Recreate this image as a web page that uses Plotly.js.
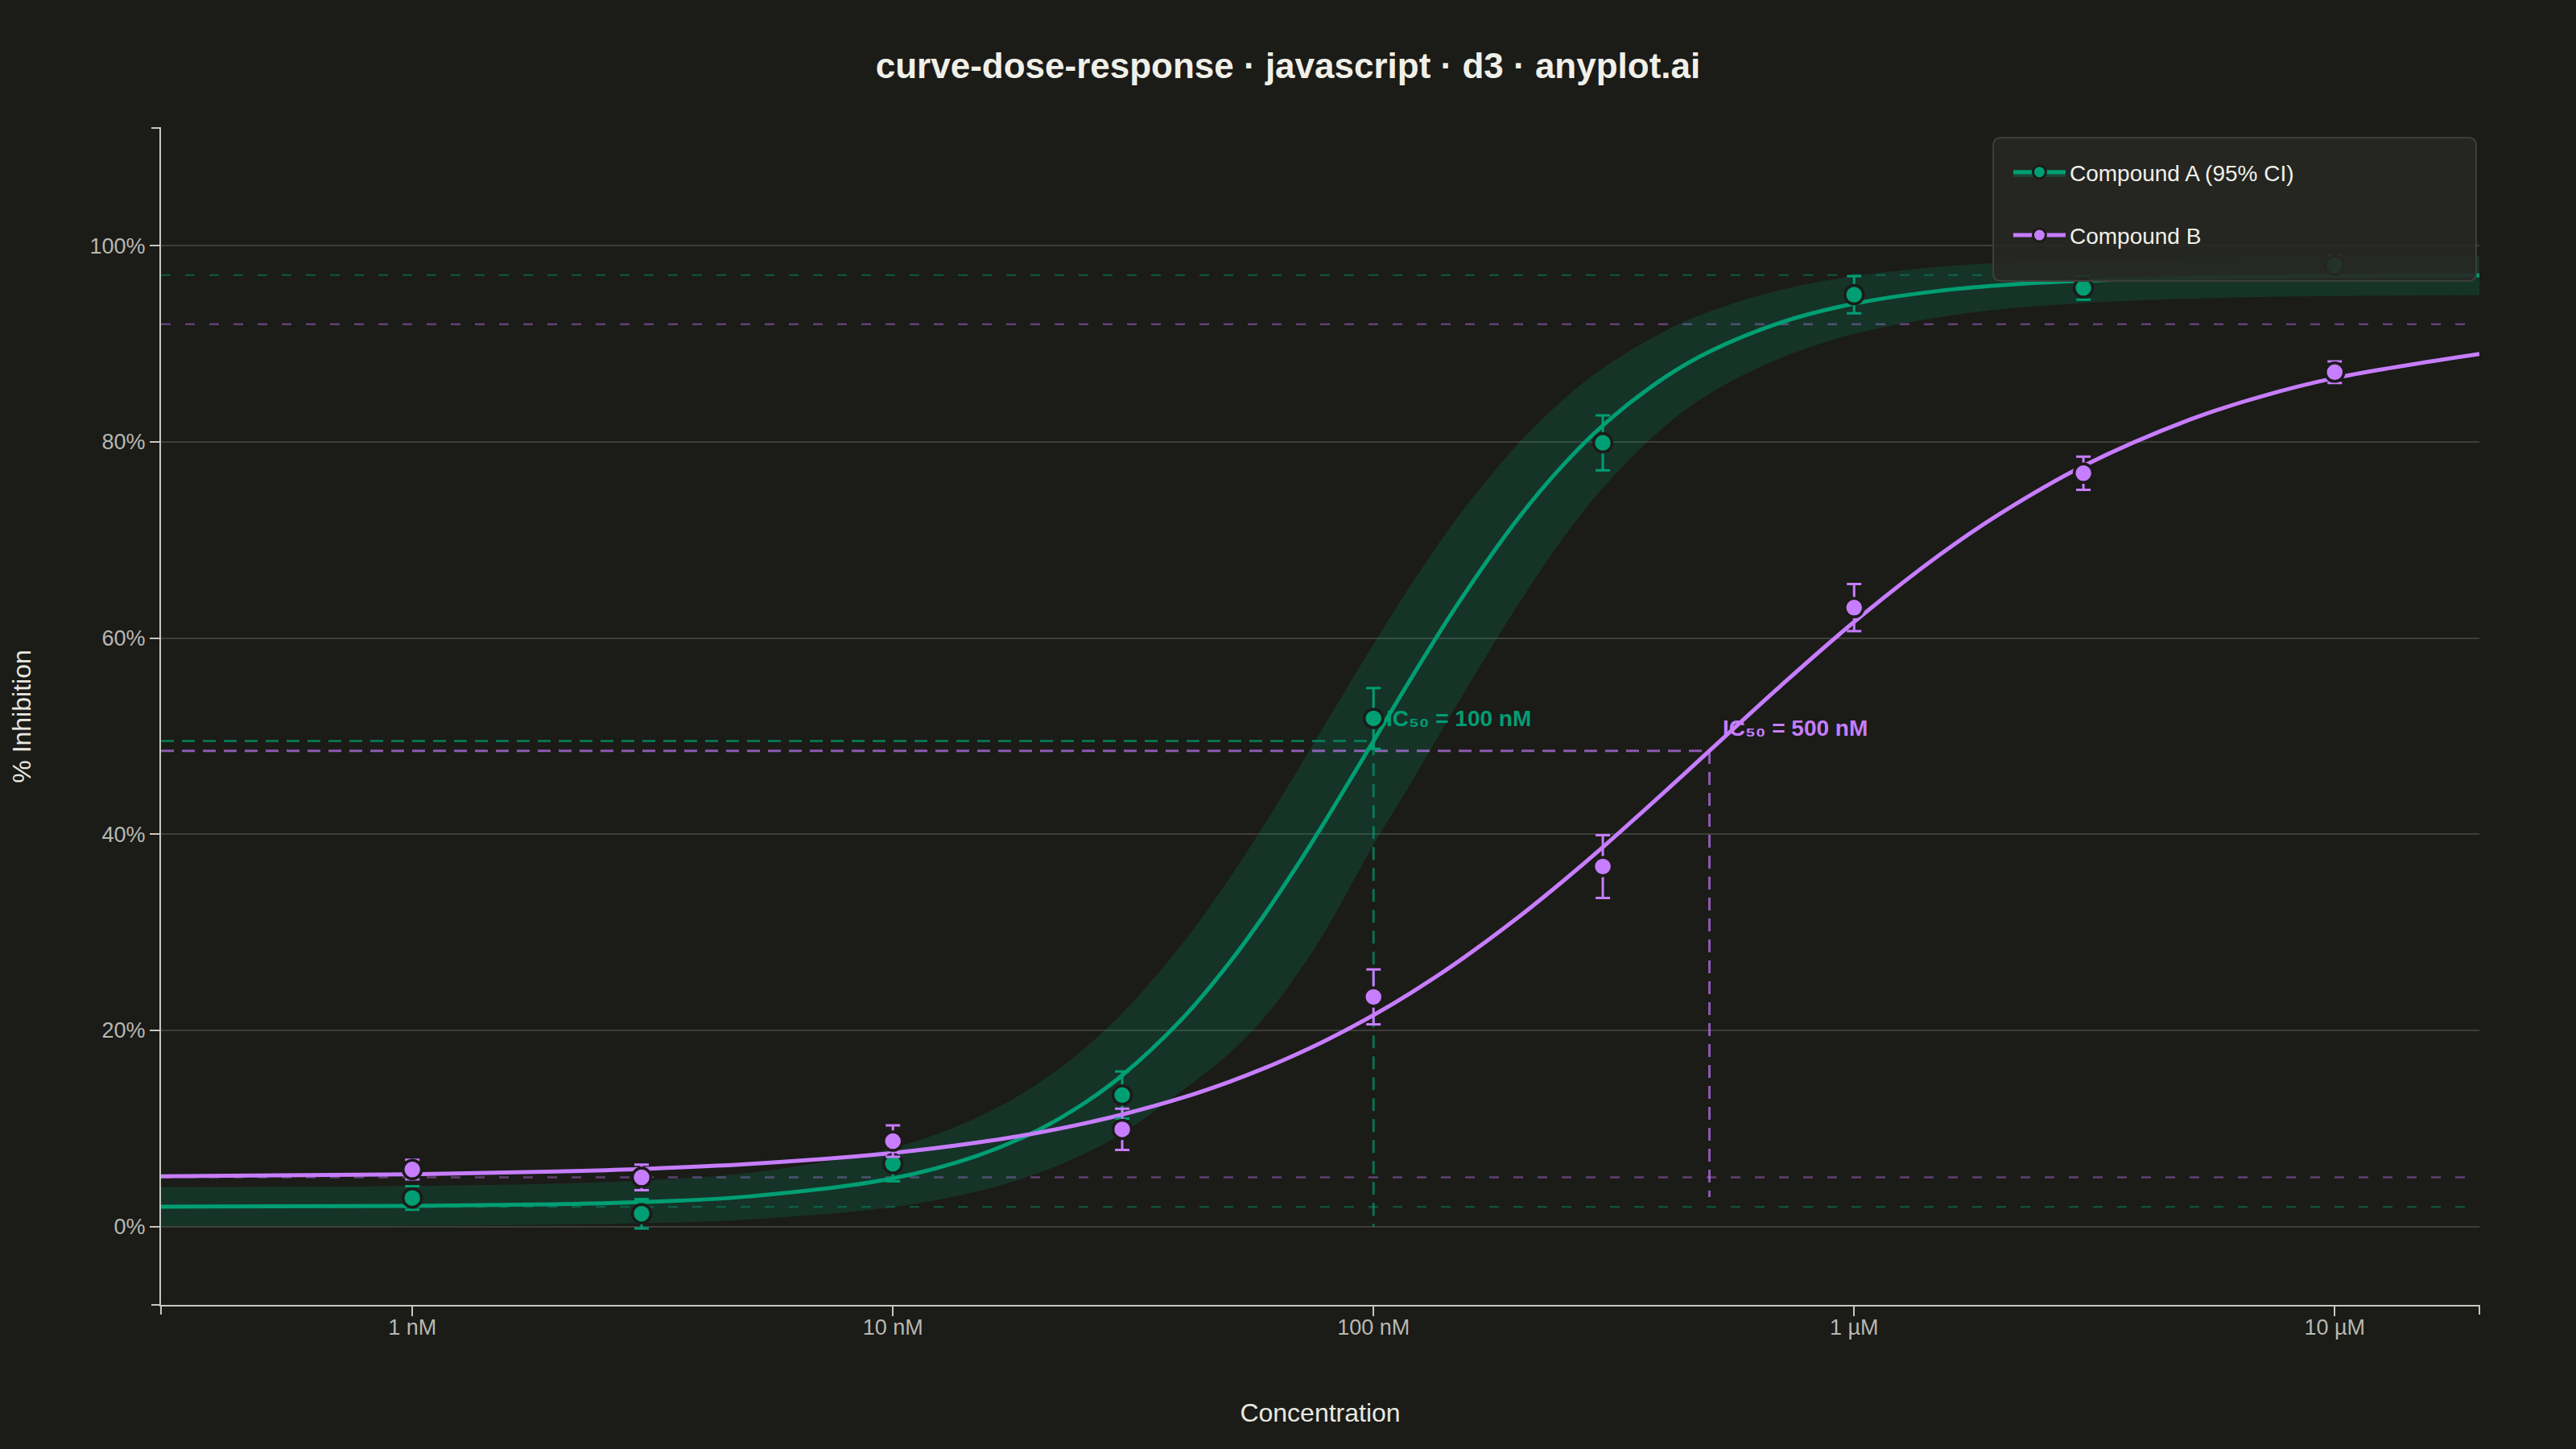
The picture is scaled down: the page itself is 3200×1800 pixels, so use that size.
<!DOCTYPE html>
<html>
<head>
<meta charset="utf-8">
<script src="https://cdn.plot.ly/plotly-3.0.1.min.js"></script>
<style>
  html, body { margin: 0; padding: 0; background: #1b1b18; }
  #chart { width: 3200px; height: 1800px; }
</style>
</head>
<body>
<div id="chart"></div>
<script>
// measured doses (nM) and responses (% inhibition)
const doseConc = [1, 3, 10, 30, 100, 300, 1000, 3000, 10000];
const respA = [2.9, 1.3, 6.4, 13.4, 51.8, 79.9, 95.0, 95.7, 98.0];
const errA = [1.2, 1.5, 1.8, 2.4, 3.1, 2.8, 1.9, 1.2, 1.0];
const respB = [5.8, 5.0, 8.7, 9.9, 23.4, 36.7, 63.1, 76.8, 87.1];
const errB = [1.0, 1.3, 1.6, 2.1, 2.8, 3.2, 2.4, 1.7, 1.1];

// fitted curves
const fitConc = [0.3, 1, 2, 3, 5, 10, 15, 20, 25, 30, 40, 50, 60, 70, 80, 100,
  120, 150, 200, 250, 300, 400, 500, 700, 1000, 1500, 2000, 3000, 5000, 7000, 10000, 20000];
const fitA = [2.02, 2.09, 2.27, 2.49, 3.05, 4.91, 7.22, 9.80, 12.56, 15.41, 21.18, 26.82, 32.14, 37.09, 41.62, 49.5,
  55.96, 63.52, 72.19, 77.82, 81.67, 86.44, 89.20, 92.13, 94.09, 95.39, 95.95, 96.43, 96.73, 96.84, 96.91, 96.97];
const fitB = [5.11, 5.32, 5.60, 5.86, 6.36, 7.50, 8.56, 9.55, 10.50, 11.41, 13.12, 14.73, 16.24, 17.67, 19.02, 21.55,
  23.86, 27.00, 31.52, 35.36, 38.67, 44.15, 48.5, 55.03, 61.64, 68.41, 72.59, 77.54, 82.27, 84.60, 86.50, 88.96];
const ciUpperA = [4.02, 4.13, 4.37, 4.68, 5.46, 8.02, 11.13, 14.56, 18.13, 21.74, 28.82, 35.42, 41.40, 46.76, 51.5, 59.38,
  65.52, 72.37, 79.82, 84.44, 87.50, 91.20, 93.29, 95.47, 96.90, 97.84, 98.25, 98.59, 98.81, 98.88, 98.93, 98.98];
const ciLowerA = [0.01, 0.06, 0.18, 0.33, 0.71, 1.98, 3.58, 5.41, 7.39, 9.48, 13.85, 17.6, 21.6, 26.0, 30.4, 38.9,
  45.3, 53.4, 63.4, 70.4, 75.3, 81.4, 84.9, 88.5, 91.0, 92.7, 93.5, 94.15, 94.6, 94.76, 94.86, 94.95];

// fit parameters [A, B]
const ic50 = [100, 500];
const ic50Labels = ['IC₅₀ = 100 nM', 'IC₅₀ = 500 nM'];
const halfMax = [49.5, 48.5];
const plateauTop = [97, 92];
const plateauBottom = [2, 5];
const dropEnd = [0, 3];

const concTicks = [1, 10, 100, 1000, 10000];
const concLabels = ['1 nM', '10 nM', '100 nM', '1 µM', '10 µM'];
const concMin = 0.3, concMax = 20000;

const green = '#009e73';
const purple = '#c77dff';
const bg = '#1b1b18';
const font = 'Liberation Sans, Arial, sans-serif';

function faded(hex, a) {
  const n = parseInt(hex.slice(1), 16);
  return `rgba(${n >> 16},${(n >> 8) & 255},${n & 255},${a})`;
}

const colors = [green, purple];

const traces = [];

// confidence band
traces.push({
  x: fitConc, y: ciLowerA, mode: 'lines', line: {width: 0, shape: 'spline'},
  hoverinfo: 'skip', showlegend: false
});
traces.push({
  x: fitConc, y: ciUpperA, mode: 'lines', line: {width: 0, shape: 'spline'},
  fill: 'tonexty', fillcolor: faded(green, 0.18), hoverinfo: 'skip', showlegend: false
});

// IC50 guide lines
for (let k = 0; k < 2; k++) {
  traces.push({
    x: [concMin, ic50[k], ic50[k]], y: [halfMax[k], halfMax[k], dropEnd[k]],
    mode: 'lines', line: {color: faded(colors[k], 0.65), width: 3, dash: '16px,10px'},
    hoverinfo: 'skip', showlegend: false
  });
}

// fitted curves
traces.push({x: fitConc, y: fitA, mode: 'lines', line: {color: green, width: 5, shape: 'spline'}, showlegend: false});
traces.push({x: fitConc, y: fitB, mode: 'lines', line: {color: purple, width: 5, shape: 'spline'}, showlegend: false});

// observed points
const pts = [[respA, errA], [respB, errB]];
for (let k = 0; k < 2; k++) {
  traces.push({
    x: doseConc, y: pts[k][0], mode: 'markers',
    marker: {color: colors[k], size: 23, line: {color: bg, width: 3.5}},
    error_y: {type: 'data', array: pts[k][1], color: colors[k], thickness: 3, width: 9},
    showlegend: false
  });
}

// legend entries
traces.push({
  x: [null], y: [null], name: 'Compound A (95% CI)', legendgroup: 'A',
  mode: 'lines+markers', fill: 'toself', fillcolor: faded(green, 0.3),
  line: {color: green, width: 5}, marker: {color: green, size: 16, line: {color: bg, width: 3}}
});
traces.push({
  x: [null], y: [null], name: 'Compound B', legendgroup: 'B',
  mode: 'lines+markers',
  line: {color: purple, width: 5}, marker: {color: purple, size: 16, line: {color: bg, width: 3}}
});

const shapes = [];
for (let k = 0; k < 2; k++) {
  for (const v of [plateauTop[k], plateauBottom[k]]) {
    shapes.push({
      type: 'line', xref: 'paper', x0: 0, x1: 1, yref: 'y', y0: v, y1: v,
      line: {color: faded(colors[k], 0.4), width: 2.5, dash: '12px,18px'}, layer: 'below'
    });
  }
}
// outer ticks at the ends of both axes
const axisColor = '#c8c8c0';
for (const py of [0, 1]) {
  shapes.push({type: 'line', xref: 'paper', xsizemode: 'pixel', xanchor: 0, x0: -12, x1: 0,
    yref: 'paper', y0: py, y1: py, line: {color: axisColor, width: 2}});
}
for (const px of [0, 1]) {
  shapes.push({type: 'line', yref: 'paper', ysizemode: 'pixel', yanchor: 0, y0: 0, y1: -12,
    xref: 'paper', x0: px, x1: px, line: {color: axisColor, width: 2}});
}
// rounded legend panel
const bx0 = 0.7903, bx1 = 0.9986, by0 = 0.870, by1 = 0.9918;
const rx = 10 / 2880, ry = 10 / 1462;
shapes.push({
  type: 'path', xref: 'paper', yref: 'paper', layer: 'above',
  path: `M ${bx0 + rx},${by1} L ${bx1 - rx},${by1} Q ${bx1},${by1} ${bx1},${by1 - ry} ` +
    `L ${bx1},${by0 + ry} Q ${bx1},${by0} ${bx1 - rx},${by0} L ${bx0 + rx},${by0} ` +
    `Q ${bx0},${by0} ${bx0},${by0 + ry} L ${bx0},${by1 - ry} Q ${bx0},${by1} ${bx0 + rx},${by1} Z`,
  fillcolor: 'rgba(39,39,35,0.9)', line: {color: '#3e3e3a', width: 2}
});

const annotations = ic50.map((c, k) => ({
  x: Math.log10(c), y: halfMax[k], xref: 'x', yref: 'y',
  text: '<b>' + ic50Labels[k] + '</b>', showarrow: false,
  xanchor: 'left', yanchor: 'middle', xshift: 14, yshift: 28,
  font: {family: font, size: 28, color: colors[k]}
}));

const layout = {
  width: 3200, height: 1800,
  paper_bgcolor: bg, plot_bgcolor: bg,
  margin: {l: 200, r: 120, t: 159, b: 179},
  font: {family: font, color: '#d8d8d0'},
  title: {
    text: '<b>curve-dose-response · javascript · d3 · anyplot.ai</b>',
    x: 0.5, xanchor: 'center', yref: 'container', y: 1 - 82 / 1800, yanchor: 'middle',
    font: {family: font, size: 44, color: '#f0f0e8'}
  },
  xaxis: {
    type: 'log', range: [Math.log10(concMin), Math.log10(concMax)],
    tickvals: concTicks, ticktext: concLabels,
    showgrid: false, zeroline: false,
    showline: true, linecolor: axisColor, linewidth: 2,
    ticks: 'outside', ticklen: 12, tickwidth: 2, tickcolor: axisColor,
    ticklabelstandoff: -9,
    tickfont: {family: font, size: 27, color: '#b8b8b0'},
    title: {text: 'Concentration', standoff: 80, font: {family: font, size: 32, color: '#e8e8e0'}},
    automargin: false
  },
  yaxis: {
    range: [-8, 112], tick0: 0, dtick: 20, ticksuffix: '%',
    showgrid: true, gridcolor: '#3e3e39', gridwidth: 2, zeroline: false,
    showline: true, linecolor: axisColor, linewidth: 2,
    ticks: 'outside', ticklen: 12, tickwidth: 2, tickcolor: axisColor,
    tickfont: {family: font, size: 27, color: '#b8b8b0'},
    title: {text: '% Inhibition', standoff: 63, font: {family: font, size: 32, color: '#e8e8e0'}},
    automargin: false
  },
  legend: {
    x: 0.7972, xanchor: 'left', y: 0.9795, yanchor: 'top',
    bgcolor: 'rgba(0,0,0,0)', borderwidth: 0,
    font: {family: font, size: 28, color: '#f0f0e8'},
    tracegroupgap: 39, itemwidth: 65,
    itemclick: false, itemdoubleclick: false
  },
  shapes: shapes,
  annotations: annotations,
  showlegend: true
};

Plotly.newPlot('chart', traces, layout, {displayModeBar: false, responsive: false});
</script>
</body>
</html>
